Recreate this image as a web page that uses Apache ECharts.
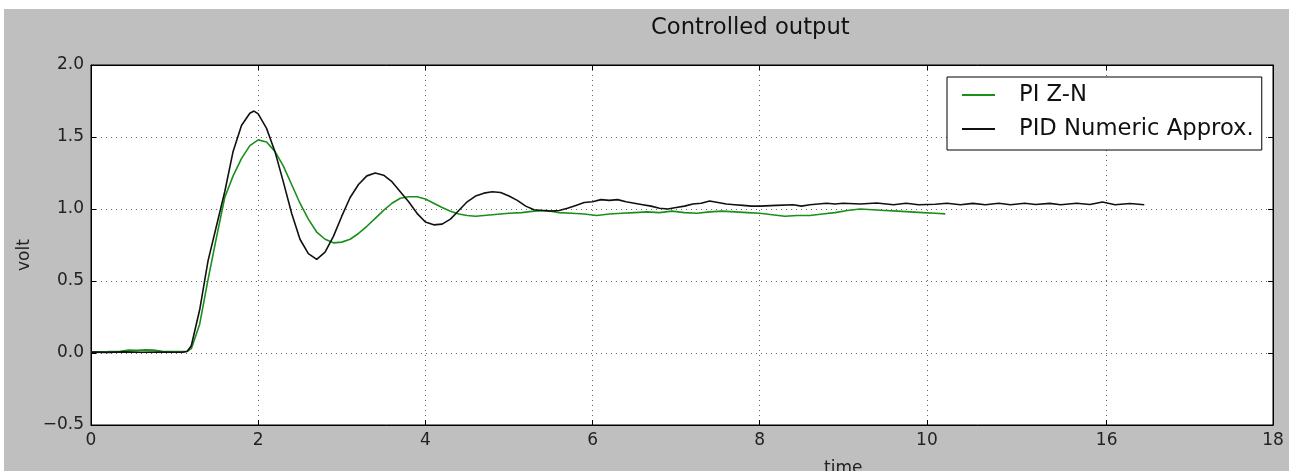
<!DOCTYPE html>
<html>
<head>
<meta charset="utf-8">
<script src="https://cdn.jsdelivr.net/npm/echarts@6/dist/echarts.min.js"></script>
<style>
html,body{margin:0;padding:0;background:#fff;width:1289px;height:471px;overflow:hidden;}
#c{position:absolute;left:4px;top:9px;width:1285px;height:462px;}
</style>
</head>
<body>
<div id="c"></div>
<script>
// Tick positions (axis units) and their printed labels
const xTickPos = [0, 2, 4, 6, 8, 10, 12.15, 14.14];
const xTickLabels = ['0', '2', '4', '6', '8', '10', '16', '18'];
const yTicks = [-0.5, 0, 0.5, 1.0, 1.5, 2.0];

// PI Z-N (green)
const piTime = [0.0,0.2,0.35,0.45,0.55,0.65,0.75,0.85,1.0,1.1,1.15,1.2,1.3,1.4,1.5,1.6,1.7,1.8,1.9,2.0,
  2.1,2.2,2.3,2.4,2.5,2.6,2.7,2.8,2.9,3.0,3.1,3.2,3.3,3.4,3.5,3.6,3.7,3.8,3.9,4.0,
  4.1,4.2,4.3,4.4,4.5,4.6,4.7,4.8,4.9,5.0,5.15,5.3,5.45,5.6,5.75,5.9,6.05,6.2,6.35,6.5,
  6.65,6.8,6.95,7.1,7.25,7.4,7.55,7.7,7.85,8.0,8.15,8.3,8.45,8.6,8.75,8.9,9.05,9.2,9.35,9.5,
  9.65,9.8,9.95,10.1,10.22];
const piVolt = [0.008,0.01,0.012,0.02,0.018,0.022,0.02,0.012,0.01,0.01,0.012,0.03,0.20,0.51,0.80,1.08,1.23,1.35,1.44,1.48,
  1.465,1.40,1.30,1.17,1.04,0.93,0.84,0.79,0.765,0.77,0.79,0.83,0.88,0.935,0.99,1.04,1.075,1.085,1.085,1.07,
  1.04,1.01,0.985,0.965,0.955,0.95,0.955,0.96,0.965,0.97,0.975,0.985,0.99,0.975,0.97,0.965,0.955,0.965,0.97,0.975,
  0.98,0.975,0.985,0.975,0.97,0.98,0.985,0.98,0.975,0.97,0.96,0.95,0.955,0.955,0.965,0.975,0.99,1.0,0.995,0.99,
  0.985,0.98,0.975,0.97,0.966];

// PID Numeric Approx. (black)
const pidTime = [0.0,0.2,0.4,0.6,0.8,1.0,1.1,1.15,1.2,1.3,1.4,1.5,1.6,1.7,1.8,1.9,1.95,2.0,2.1,2.2,
  2.3,2.4,2.5,2.6,2.7,2.8,2.9,3.0,3.1,3.2,3.3,3.4,3.5,3.6,3.7,3.8,3.9,4.0,4.1,4.2,
  4.3,4.4,4.5,4.6,4.7,4.8,4.9,5.0,5.1,5.2,5.3,5.4,5.5,5.6,5.7,5.8,5.9,6.0,6.1,6.2,
  6.3,6.4,6.5,6.6,6.7,6.8,6.9,7.0,7.1,7.2,7.3,7.4,7.5,7.6,7.7,7.8,7.9,8.0,8.2,8.4,
  8.5,8.6,8.8,8.9,9.0,9.2,9.4,9.6,9.75,9.9,10.1,10.24,10.4,10.55,10.7,10.86,11.0,11.17,11.3,11.47,
  11.6,11.79,11.95,12.1,12.25,12.43,12.6];
const pidVolt = [0.006,0.004,0.008,0.005,0.007,0.005,0.006,0.01,0.05,0.30,0.64,0.88,1.12,1.40,1.58,1.665,1.68,1.66,1.56,1.40,
  1.19,0.97,0.79,0.69,0.65,0.70,0.81,0.95,1.08,1.17,1.23,1.25,1.235,1.19,1.12,1.05,0.97,0.91,0.89,0.895,
  0.93,0.99,1.05,1.09,1.11,1.12,1.115,1.09,1.06,1.02,0.995,0.99,0.985,0.99,1.005,1.025,1.045,1.05,1.065,1.06,
  1.065,1.05,1.04,1.03,1.02,1.005,1.0,1.01,1.02,1.035,1.04,1.055,1.045,1.035,1.03,1.025,1.02,1.02,1.025,1.03,
  1.02,1.03,1.04,1.035,1.04,1.035,1.042,1.03,1.04,1.03,1.033,1.04,1.03,1.039,1.03,1.04,1.03,1.04,1.031,1.039,
  1.03,1.04,1.031,1.048,1.03,1.038,1.03];

const FONT = 'DejaVu Sans';
const piData = piTime.map((t, i) => [t, piVolt[i]]);
const pidData = pidTime.map((t, i) => [t, pidVolt[i]]);

function xLabel(v) {
  for (let i = 0; i < xTickPos.length; i++) if (Math.abs(xTickPos[i] - v) < 1e-6) return xTickLabels[i];
  return '';
}
const gridDash = { show: true, lineStyle: { color: '#666', width: 1, type: [1, 4] } };

const chart = echarts.init(document.getElementById('c'), null, { renderer: 'canvas' });
chart.setOption({
  animation: false,
  backgroundColor: '#bfbfbf',
  title: {
    text: 'Controlled output', left: 647, top: 8, padding: 0,
    textStyle: { fontFamily: FONT, fontSize: 22.7, fontWeight: 'normal', color: '#111' }
  },
  grid: { left: 87, top: 56, right: 16, bottom: 46, show: true, backgroundColor: '#fff', borderColor: '#000', borderWidth: 1 },
  legend: {
    left: 943, top: 68, orient: 'vertical',
    backgroundColor: '#fff', borderColor: '#000', borderWidth: 1, borderRadius: 0,
    padding: [6, 8, 9, 15], itemGap: 10, itemWidth: 33, itemHeight: 2, icon: 'rect',
    textStyle: { fontFamily: FONT, fontSize: 22.7, color: '#111', lineHeight: 24, padding: [0, 0, 0, 19] },
    data: ['PI Z-N', 'PID Numeric Approx.']
  },
  xAxis: [{
    type: 'value', min: 0, max: 14.14, position: 'bottom',
    axisLine: { show: true, onZero: false, lineStyle: { color: '#000', width: 1 } },
    axisTick: { show: true, inside: true, length: 5, customValues: xTickPos, lineStyle: { color: '#000' } },
    axisLabel: { customValues: xTickPos, formatter: xLabel, margin: 7, fontFamily: FONT, fontSize: 17, color: '#222', showMinLabel: true, showMaxLabel: true },
    splitLine: gridDash
  }, {
    type: 'value', min: 0, max: 14.14, position: 'top',
    axisLine: { show: true, onZero: false, lineStyle: { color: '#000', width: 1 } },
    axisTick: { show: true, inside: true, length: 5, customValues: xTickPos, lineStyle: { color: '#000' } },
    axisLabel: { show: false }, splitLine: { show: false }
  }],
  yAxis: [{
    type: 'value', min: -0.5, max: 2.0, interval: 0.5, position: 'left',
    axisLine: { show: true, onZero: false, lineStyle: { color: '#000', width: 1 } },
    axisTick: { show: true, inside: true, length: 5, lineStyle: { color: '#000' } },
    axisLabel: { formatter: v => v.toFixed(1).replace('-', '\u2212'), margin: 7, fontFamily: FONT, fontSize: 17, color: '#222' },
    splitLine: gridDash
  }, {
    type: 'value', min: -0.5, max: 2.0, interval: 0.5, position: 'right',
    axisLine: { show: true, onZero: false, lineStyle: { color: '#000', width: 1 } },
    axisTick: { show: true, inside: true, length: 5, lineStyle: { color: '#000' } },
    axisLabel: { show: false }, splitLine: { show: false }
  }],
  graphic: [
    { type: 'text', left: 820, top: 451, style: { text: 'time', font: '17px "DejaVu Sans"', fill: '#222' } },
    { type: 'text', x: 12, y: 262, rotation: Math.PI / 2, style: { text: 'volt', font: '17px "DejaVu Sans"', fill: '#222' } }
  ],
  series: [
    { name: 'PI Z-N', type: 'line', data: piData, showSymbol: false, symbol: 'none', color: '#1a8f1a',
      lineStyle: { color: '#1a8f1a', width: 1.6 }, silent: true, z: 2 },
    { name: 'PID Numeric Approx.', type: 'line', data: pidData, showSymbol: false, symbol: 'none', color: '#111',
      lineStyle: { color: '#111', width: 1.6 }, silent: true, z: 3 }
  ]
});
</script>
</body>
</html>
